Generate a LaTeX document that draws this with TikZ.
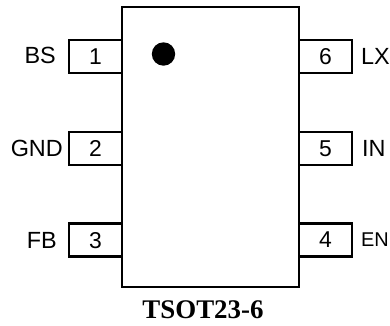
\documentclass[tikz,border=0pt]{standalone}
\usepackage{fontspec}
\setmainfont{Liberation Sans}
\newfontfamily\titlefont{Liberation Serif}
\begin{document}
\begin{tikzpicture}[x=1bp,y=-1bp,
  bodybox/.style={draw=black, line width=2.6bp, minimum width=177bp, minimum height=280bp, inner sep=0pt},
  pinbox/.style={draw=black, line width=2.2bp, minimum width=53bp, minimum height=33bp, inner sep=0pt, font=\fontsize{23}{23}\selectfont, text depth=0pt},
  lbl/.style={inner sep=0pt, text depth=0pt, font=\fontsize{23.5}{23.5}\selectfont},
  lbll/.style={lbl, anchor=east},
  lblr/.style={lbl, anchor=west},
]
\useasboundingbox (0,0) rectangle (390,326);
\node[bodybox] (body) at (210.5,147) {};
\node[pinbox] (p1) at (95.5,56.5) {1};
\node[pinbox] (p2) at (95.5,148.5) {2};
\node[pinbox] (p3) at (95.5,240) {3};
\node[pinbox] (p6) at (325.5,56.5) {6};
\node[pinbox] (p5) at (325.5,148.5) {5};
\node[pinbox] (p4) at (325.5,240) {4};
\fill[black] (163.5,54) circle (11.7);
\node[lbll] (l1) at (56,55.5) {BS};
\node[lbll] (l2) at (63,148.5) {GND};
\node[lbll] (l3) at (57,240) {FB};
\node[lblr] (l6) at (361,56) {LX};
\node[lblr] (l5) at (362,148.5) {IN};
\node[lblr, font=\fontsize{20}{20}\selectfont] (l4) at (361,240) {EN};
\node[inner sep=0pt, anchor=base, font=\titlefont\bfseries\fontsize{27}{27}\selectfont] (title) at (203,318) {TSOT23-6};
\end{tikzpicture}
\end{document}
